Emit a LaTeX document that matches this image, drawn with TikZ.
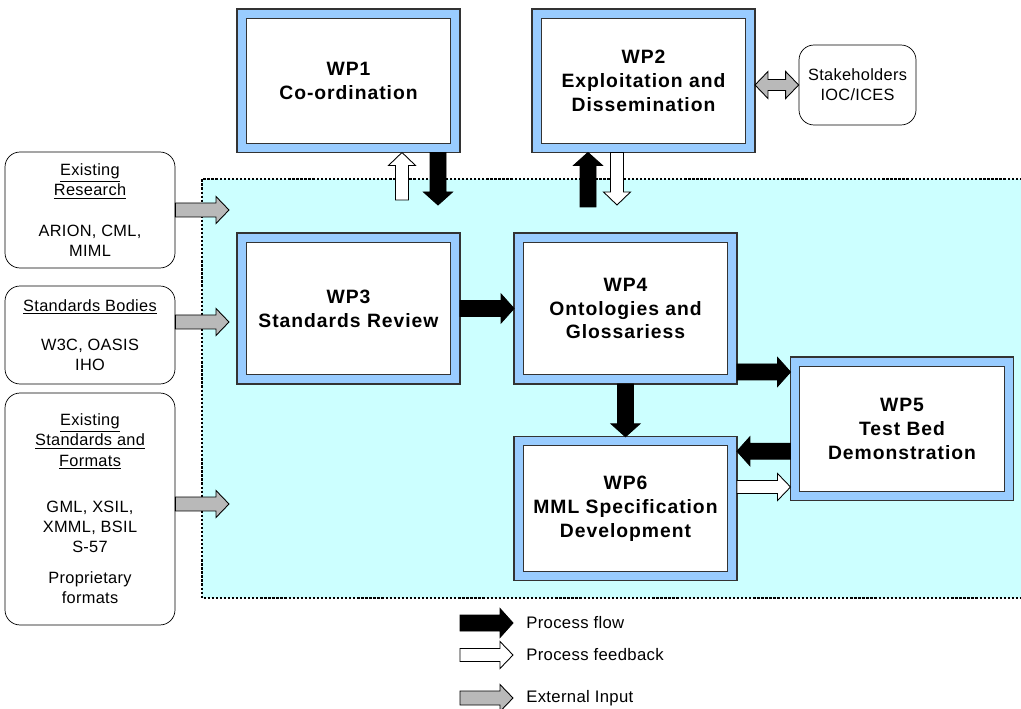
\documentclass[tikz,border=0pt]{standalone}
\usepackage{fontspec}
\setmainfont{Liberation Sans}
\usetikzlibrary{calc, positioning}
\definecolor{wpblue}{RGB}{153, 204, 255}
\definecolor{areacyan}{RGB}{204, 255, 255}
\definecolor{inputgray}{RGB}{185, 185, 185}
\tikzset{
    arrow shaft/.store in=\shaftw,
    arrow head/.store in=\headw,
    arrow tiplen/.store in=\headl,
    arrow shaft=0.16cm, arrow head=0.29cm, arrow tiplen=0.26cm,
    fatarrow/.style={draw=black, line width=0.5pt, to path={
        let \p1=(\tikztostart), \p2=(\tikztotarget),
            \n1={atan2(\y2-\y1,\x2-\x1)}, \n2={veclen(\x2-\x1,\y2-\y1)-\headl},
            \n3={\n1+90}, \n4={\n1-90} in
        ($(\p1)+(\n3:\shaftw)$) -- ($(\p1)+(\n1:\n2)+(\n3:\shaftw)$)
        -- ($(\p1)+(\n1:\n2)+(\n3:\headw)$) -- (\p2)
        -- ($(\p1)+(\n1:\n2)+(\n4:\headw)$) -- ($(\p1)+(\n1:\n2)+(\n4:\shaftw)$)
        -- ($(\p1)+(\n4:\shaftw)$) -- cycle}},
    twofatarrow/.style={draw=black, line width=0.5pt, to path={
        let \p1=(\tikztostart), \p2=(\tikztotarget),
            \n1={atan2(\y2-\y1,\x2-\x1)}, \n2={veclen(\x2-\x1,\y2-\y1)-\headl},
            \n3={\n1+90}, \n4={\n1-90} in
        (\p1) -- ($(\p1)+(\n1:\headl)+(\n3:\headw)$) -- ($(\p1)+(\n1:\headl)+(\n3:\shaftw)$)
        -- ($(\p1)+(\n1:\n2)+(\n3:\shaftw)$) -- ($(\p1)+(\n1:\n2)+(\n3:\headw)$) -- (\p2)
        -- ($(\p1)+(\n1:\n2)+(\n4:\headw)$) -- ($(\p1)+(\n1:\n2)+(\n4:\shaftw)$)
        -- ($(\p1)+(\n1:\headl)+(\n4:\shaftw)$) -- ($(\p1)+(\n1:\headl)+(\n4:\headw)$) -- cycle}},
    flowarrow/.style={fatarrow, fill=black, arrow shaft=0.16cm, arrow head=0.29cm},
    backarrow/.style={fatarrow, fill=white, arrow shaft=0.13cm, arrow head=0.27cm},
    inarrow/.style={fatarrow, fill=inputgray, arrow shaft=0.14cm, arrow head=0.27cm},
}

\begin{document}
\begin{tikzpicture}[
    x=0.02cm, y=-0.02cm,
    wp/.style={draw=black!80, line width=0.6pt, double=wpblue, double distance=0.16cm, fill=white, minimum width=4.28cm, minimum height=2.69cm, outer sep=0.09cm, align=center, font=\bfseries\fontsize{11}{13.6}\selectfont\addfontfeatures{LetterSpace=5}},
    src/.style={draw=black, rounded corners=0.3cm, fill=white, minimum width=3.4cm, align=center, font=\fontsize{9.3}{11.4}\selectfont\addfontfeatures{LetterSpace=2}},
    legend/.style={anchor=west, inner sep=0pt, font=\fontsize{9.5}{11.4}\selectfont\addfontfeatures{LetterSpace=2}},
]
    \useasboundingbox (0,0) rectangle (1021,709);

    % project area
    \fill[areacyan] (202,179) rectangle (1030,598);
    \draw[densely dotted, line width=1.3pt] (1030,179) -- (202,179) -- (202,598) -- (1030,598);

    % work packages
    \node[wp] (wp1) at (348.5,80.75) {WP1\\Co-ordination};
    \node[wp] (wp2) at (643.5,80.75) {WP2\\Exploitation and\\Dissemination};
    \node[wp, minimum height=2.84cm] (wp3) at (348.5,308.5) {WP3\\Standards Review};
    \node[wp, minimum height=2.84cm] (wp4) at (625.5,308.5) {WP4\\Ontologies and\\Glossariess};
    \node[wp] (wp5) at (902,428.75) {WP5\\Test Bed\\Demonstration};
    \node[wp] (wp6) at (625.5,508.5) {WP6\\MML Specification\\Development};

    % outside sources
    \node[src, minimum height=2.32cm] (research) at (90,210) {\underline{Existing}\\\underline{Research}\\[1.3em]ARION, CML,\\MIML};
    \node[src, minimum height=1.96cm] (bodies) at (90,335) {\underline{Standards Bodies}\\[1.2em]W3C, OASIS\\IHO};
    \node[src, minimum height=4.64cm] (formats) at (90,509) {\underline{Existing}\\\underline{Standards and}\\\underline{Formats}\\[1.6em]GML, XSIL,\\XMML, BSIL\\S-57\\[0.7em]Proprietary\\formats};
    \node[src, minimum width=2.34cm, minimum height=1.6cm] (stake) at (857.5,85) {Stakeholders\\IOC/ICES};

    % links to WP1 and WP2
    \coordinate (wp1up) at (402,200);
    \coordinate (wp1down) at (438,205);
    \coordinate (wp2up) at (588,207);
    \coordinate (wp2down) at (617,205);
    \draw[backarrow] (wp1up) to (wp1up |- wp1.south);
    \draw[flowarrow] (wp1down |- wp1.south) to (wp1down);
    \draw[flowarrow] (wp2up) to (wp2up |- wp2.south);
    \draw[backarrow] (wp2down |- wp2.south) to (wp2down);
    \draw[twofatarrow, fill=inputgray, arrow shaft=0.11cm, arrow head=0.27cm] (stake.west -| wp2.east) to (stake.west);

    % process flow
    \coordinate (a45) at ([yshift=-1.27cm]wp4.east);
    \coordinate (a56) at ([yshift=-0.45cm]wp5.west);
    \coordinate (a65) at ([yshift=0.43cm]wp6.east);
    \draw[flowarrow] (wp3.east) to (wp4.west);
    \draw[flowarrow] (a45) to (a45 -| wp5.west);
    \draw[flowarrow] (wp4.south) to (wp4.south |- wp6.north);
    \draw[flowarrow] (a56) to (a56 -| wp6.east);
    \draw[backarrow] (a65) to (a65 -| wp5.west);

    % external inputs
    \coordinate (in1) at (229,210);
    \coordinate (in2) at (229,322);
    \coordinate (in3) at (229,504);
    \draw[inarrow] (in1 -| research.east) to (in1);
    \draw[inarrow] (in2 -| bodies.east) to (in2);
    \draw[inarrow] (in3 -| formats.east) to (in3);

    % legend
    \node[legend] (lflow) at (526,623) {Process flow};
    \node[legend] (lback) at (526,655) {Process feedback};
    \node[legend] (lin) at (526,698) {External Input};
    \coordinate (lstart) at (460,0);
    \draw[flowarrow] (lstart |- lflow.west) to ([xshift=-0.26cm]lflow.west);
    \draw[backarrow] (lstart |- lback.west) to ([xshift=-0.26cm]lback.west);
    \draw[inarrow] (lstart |- lin.west) to ([xshift=-0.26cm]lin.west);
\end{tikzpicture}
\end{document}
